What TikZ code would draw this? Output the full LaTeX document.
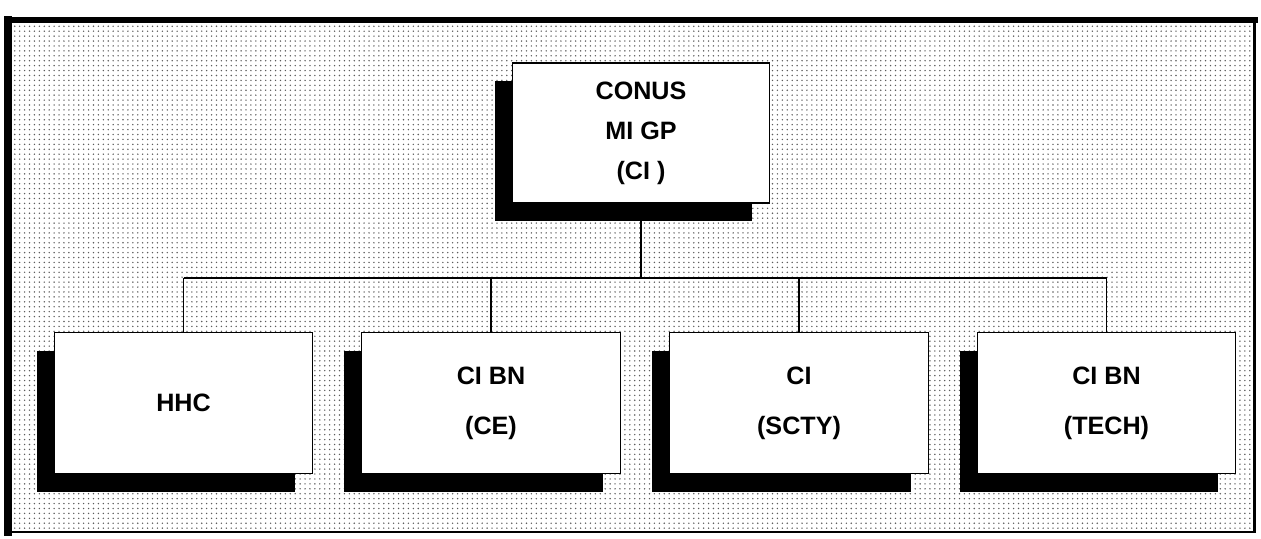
\documentclass[tikz,border=0pt]{standalone}
\usepackage{fontspec}
\setmainfont{Liberation Sans}
\usetikzlibrary{calc, positioning, shadows, patterns.meta}
\definecolor{ScreenDot}{HTML}{5C5C5C}
\definecolor{InkBlack}{HTML}{000000}

\begin{document}
\begin{tikzpicture}[
        unit/.style={draw=InkBlack, line width=0.8pt, fill=white,
                    minimum width=5.14cm, minimum height=2.80cm, align=center,
                    font=\fontsize{14.3}{22.7}\selectfont\bfseries,
                    drop shadow={shadow xshift=-0.35cm, shadow yshift=-0.37cm, fill=InkBlack, opacity=1}},
        subunit/.style={unit, minimum width=5.17cm, minimum height=2.82cm,
                    font=\fontsize{14.3}{28.5}\selectfont\bfseries},
        link/.style={draw=InkBlack, line width=0.8pt}]
        \useasboundingbox (0,0) rectangle (25.22,10.76);
        \fill[white] (0,0) rectangle (25.22,10.76);
        \fill[pattern={Dots[distance=2.8pt, radius=0.45pt]}, pattern color=ScreenDot] (0.16,0.12) rectangle (25.09,10.36);
        \draw[InkBlack, line width=4.5pt, line cap=rect] (0.16,0.12) -- (0.16,10.36);
        \draw[InkBlack, line width=3.6pt, line cap=rect] (0.16,10.36) -- (25.09,10.36);
        \draw[InkBlack, line width=1.7pt, line cap=rect] (25.09,10.36) -- (25.09,0.12) -- (0.16,0.12);
        \node[unit] (conus) at (12.82,8.10) {CONUS\\MI GP\\(CI )};
        \node[subunit] (hhc)  at (3.67,2.70)  {HHC};
        \node[subunit] (cibn) at (9.82,2.70)  {CI BN\\(CE)};
        \node[subunit] (ci)   at (15.98,2.70) {CI\\(SCTY)};
        \node[subunit] (tech) at (22.13,2.70) {CI BN\\(TECH)};
        \coordinate (bus) at (12.82,5.20);
        \draw[link] (conus.south) -- (bus);
        \draw[link] (bus -| hhc.north) -- (bus -| tech.north);
        \foreach \n in {hhc, cibn, ci, tech}
          \draw[link] (bus -| \n.north) -- (\n.north);
\end{tikzpicture}
\end{document}
